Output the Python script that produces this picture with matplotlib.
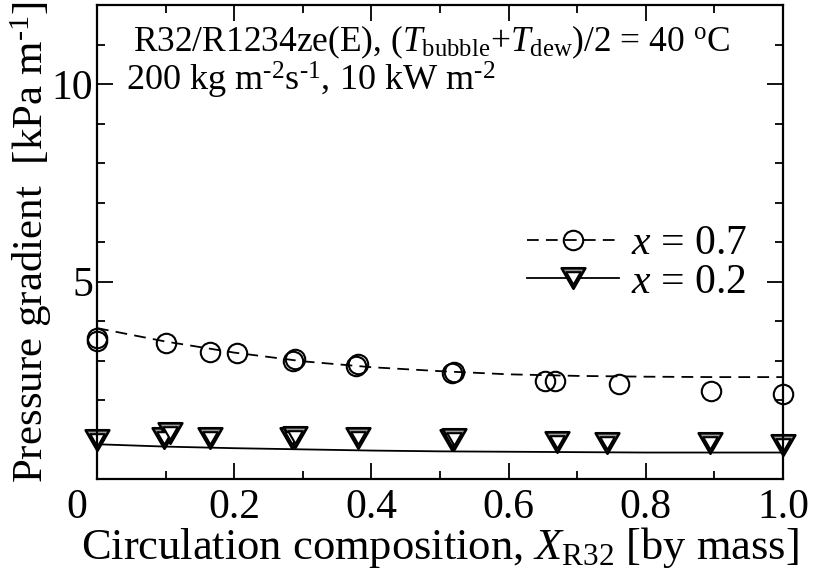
import matplotlib.pyplot as plt
from matplotlib.path import Path
from matplotlib.legend_handler import HandlerTuple
from matplotlib.transforms import ScaledTranslation

plt.rcParams["font.family"] = ["Liberation Serif", "DejaVu Serif"]
plt.rcParams["mathtext.fontset"] = "custom"
plt.rcParams["mathtext.rm"] = "Liberation Serif"
plt.rcParams["mathtext.it"] = "Liberation Serif:italic"
plt.rcParams["mathtext.bf"] = "Liberation Serif:bold"

# measured pressure gradient, vapour quality x = 0.7
comp_07 = [0.0, 0.0, 0.10, 0.164, 0.204, 0.286, 0.289, 0.378, 0.381, 0.517, 0.520,
           0.653, 0.668, 0.761, 0.895, 1.0]
dp_07 = [3.57, 3.49, 3.45, 3.22, 3.20, 2.99, 3.03, 2.86, 2.92, 2.69, 2.72,
         2.48, 2.48, 2.41, 2.23, 2.14]

# measured pressure gradient, vapour quality x = 0.2
comp_02 = [0.0, 0.098, 0.106, 0.165, 0.284, 0.288, 0.380, 0.517, 0.520,
           0.670, 0.743, 0.894, 1.0]
dp_02 = [0.99, 1.04, 1.16, 1.05, 1.04, 1.07, 1.04, 0.99, 1.01,
         0.94, 0.92, 0.90, 0.86]

# correlation curves
corr_comp = [0.0, 0.1, 0.2, 0.3, 0.4, 0.5, 0.6, 0.7, 0.8, 0.9, 1.0]
corr_07 = [3.82, 3.48, 3.20, 2.98, 2.83, 2.73, 2.65, 2.61, 2.59, 2.58, 2.58]
corr_02 = [0.88, 0.82, 0.78, 0.75, 0.72, 0.70, 0.69, 0.68, 0.67, 0.67, 0.67]

x_ticks = [0.0, 0.2, 0.4, 0.6, 0.8, 1.0]
x_ticklabels = ["0", "0.2", "0.4", "0.6", "0.8", "1.0"]
y_ticks = [5, 10]

HY = "\u2010"  # short hyphen used for the exponents

# equilateral down-pointing triangle
tri = Path([(-1, 0.866), (1, 0.866), (0, -0.866), (-1, 0.866)],
           [Path.MOVETO, Path.LINETO, Path.LINETO, Path.CLOSEPOLY])

fig = plt.figure(figsize=(8.15, 5.73), dpi=100)
ax = fig.add_axes([97 / 815, 1 - 479 / 573, 686 / 815, 474 / 573])

(l07,) = ax.plot(corr_comp, corr_07, color="black", lw=1.3, dashes=(6.5, 4))
(m07,) = ax.plot(comp_07, dp_07, ls="none", marker="o", ms=14, mfc="none",
                 mec="black", mew=1.5, clip_on=False)

(l02,) = ax.plot(corr_comp, corr_02, color="black", lw=1.3)
(m02a,) = ax.plot(comp_02, dp_02, ls="none", marker=tri, ms=17, mfc="#9a9a9a",
                  mec="black", mew=1.9, clip_on=False)
(m02b,) = ax.plot(comp_02, dp_02, ls="none", marker=tri, ms=10.5, mfc="white",
                  mec="black", mew=1.5, clip_on=False)

ax.set_xlim(0, 1.0)
ax.set_ylim(0, 12)
ax.set_xticks(x_ticks)
ax.set_xticklabels(x_ticklabels)
ax.set_xticks([0.1, 0.3, 0.5, 0.7, 0.9], minor=True)
ax.set_yticks(y_ticks)
ax.set_yticks([1, 2, 3, 4, 6, 7, 8, 9, 11], minor=True)
ax.tick_params(which="both", direction="in", top=True, right=True, width=1.3,
               labelsize=30, pad=6.5)
ax.tick_params(which="major", length=11.5)
ax.tick_params(which="minor", length=5.5)
ax.tick_params(axis="y", pad=3)
for sp in ax.spines.values():
    sp.set_linewidth(1.6)

# nudge the "0" label to the left, as in the original
lbl0 = ax.xaxis.get_majorticklabels()[0]
lbl0.set_transform(lbl0.get_transform() + ScaledTranslation(-0.2, 0, fig.dpi_scale_trans))

ax.set_xlabel(r"Circulation composition, $X_{\rm R32}$ [by mass]", fontsize=32, labelpad=-1)
ax.set_ylabel("Pressure gradient  [kPa m$^{" + HY + "1}$]", fontsize=31, labelpad=-2)

fig.text(133 / 815, 1 - 51 / 573,
         r"R32/R1234ze(E), ($T_{\rm bubble}$+$T_{\rm dew}$)/2 = 40 $^{\rm o}$C",
         fontsize=25.5, va="baseline", ha="left")
fig.text(126 / 815, 1 - 91 / 573,
         "200 kg m$^{" + HY + "2}$s$^{" + HY + "1}$, 10 kW m$^{" + HY + "2}$",
         fontsize=26, va="baseline", ha="left")

ax.legend([(l07, m07), (l02, m02a, m02b)], [r"$x$ = 0.7", r"$x$ = 0.2"],
          handler_map={tuple: HandlerTuple(ndivide=1)},
          loc="upper left", bbox_to_anchor=((527 - 97) / 686, (479 - 225) / 474),
          frameon=False, fontsize=30, handlelength=2.2, handletextpad=0.3,
          labelspacing=0.0, borderpad=0, borderaxespad=0, numpoints=1)

fig.savefig("out.png", dpi=100)
